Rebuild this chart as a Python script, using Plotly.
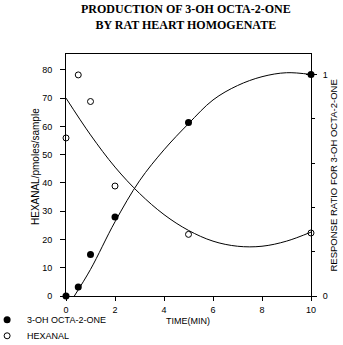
import plotly.graph_objects as go

# Measured time points (minutes)
time_min = [0, 0.5, 1, 2, 5, 10]
# Hexanal, pmoles/sample (left axis)
hexanal = [55.9, 78.2, 68.8, 38.9, 21.8, 22.3]
# 3-OH octa-2-one response ratio (right axis)
ratio_3oh = [0.0, 0.041, 0.187, 0.357, 0.783, 1.0]

# Fitted trend curves
hex_fit_x = [0, 1, 2, 3, 4, 5, 6, 7, 8, 9, 10]
hex_fit_y = [70.0, 57.0, 45.6, 36.3, 28.8, 23.2, 19.4, 17.6, 17.6, 19.4, 22.6]
oh_fit_x = [0.34, 1, 2, 3, 4, 5, 6, 7, 8, 9, 10]
oh_fit_y = [0.0, 0.12, 0.335, 0.52, 0.66, 0.778, 0.885, 0.95, 0.99, 1.008, 1.0]

x_ticks = [0, 2, 4, 6, 8, 10]
left_ticks = [0, 10, 20, 30, 40, 50, 60, 70, 80]
right_ticks = [0, 1]
right_minor = [0.2, 0.4, 0.6, 0.8]

SANS = "Liberation Sans, Arial, sans-serif"
SERIF = "Liberation Serif, Times New Roman, serif"

fig = go.Figure()

# Trend lines
fig.add_trace(go.Scatter(x=hex_fit_x, y=hex_fit_y, mode="lines", yaxis="y",
                         line=dict(color="black", width=1, shape="spline", smoothing=1.0),
                         showlegend=False, hoverinfo="skip"))
fig.add_trace(go.Scatter(x=oh_fit_x, y=oh_fit_y, mode="lines", yaxis="y2",
                         line=dict(color="black", width=1, shape="spline", smoothing=1.0),
                         showlegend=False, hoverinfo="skip"))

# Data points, each with its own legend box
fig.add_trace(go.Scatter(x=time_min, y=ratio_3oh, mode="markers", yaxis="y2",
                         name="3-OH OCTA-2-ONE", cliponaxis=False, legend="legend",
                         marker=dict(symbol="circle", size=7, color="black")))
fig.add_trace(go.Scatter(x=time_min, y=hexanal, mode="markers", yaxis="y",
                         name="HEXANAL", cliponaxis=False, legend="legend2",
                         marker=dict(symbol="circle-open", size=6, color="black",
                                     line=dict(width=1, color="black"))))

Y_MAX = 85.6
R_MAX = 1.0925

legend_style = dict(xanchor="left", yanchor="top", bgcolor="rgba(0,0,0,0)",
                    font=dict(size=9), tracegroupgap=0)

fig.update_layout(
    width=343, height=345,
    margin=dict(l=66, r=32, t=54, b=49, autoexpand=False),
    paper_bgcolor="white", plot_bgcolor="white",
    font=dict(family=SANS, size=9, color="black"),
    showlegend=True,
    legend=dict(x=-0.322, y=-0.0384, **legend_style),
    legend2=dict(x=-0.322, y=-0.1045, **legend_style),
    xaxis=dict(range=[0, 10], tickvals=x_ticks, ticks="outside", ticklen=4,
               tickcolor="black", showline=True, linecolor="black", linewidth=1,
               mirror=True, showgrid=False, zeroline=False,
               tickfont=dict(size=9), ticklabelstandoff=1),
    yaxis=dict(range=[0, Y_MAX], tickvals=left_ticks, ticks="outside", ticklen=5,
               tickcolor="black", showline=True, linecolor="black", linewidth=1,
               showgrid=False, zeroline=False, tickfont=dict(size=9),
               ticklabelstandoff=6),
    yaxis2=dict(range=[0, R_MAX], overlaying="y", side="right", tickvals=right_ticks,
                ticks="outside", ticklen=5, tickcolor="black", showline=True,
                linecolor="black", linewidth=1, showgrid=False, zeroline=False,
                tickfont=dict(size=9), ticklabelstandoff=4,
                minor=dict(tickvals=right_minor, ticks="outside", ticklen=3,
                           tickcolor="black")),
    yaxis3=dict(range=[0, R_MAX], overlaying="y", side="right", tickvals=right_ticks,
                ticks="inside", ticklen=5, tickcolor="black", showticklabels=False,
                showline=False, showgrid=False, zeroline=False),
)

# invisible trace to activate the inner tick axis
fig.add_trace(go.Scatter(x=[None], y=[None], yaxis="y3", showlegend=False, hoverinfo="skip"))

annotations = [
    dict(text="<b>PRODUCTION OF 3-OH OCTA-2-ONE<br>BY RAT HEART HOMOGENATE</b>",
         x=0.4916, y=1.1525, xref="paper", yref="paper", showarrow=False,
         xanchor="center", yanchor="middle",
         font=dict(family=SERIF, size=12, color="black")),
    dict(text="TIME(MIN)", x=0.4986, y=-0.1036, xref="paper", yref="paper",
         showarrow=False, xanchor="center", yanchor="middle", font=dict(size=9)),
    dict(text="HEXANAL/pmoles/sample", x=-0.1267, y=0.537, xref="paper", yref="paper",
         showarrow=False, textangle=-90, xanchor="center", yanchor="middle",
         font=dict(size=10)),
    dict(text="RESPONSE RATIO FOR 3-OH OCTA-2-ONE", x=1.092, y=0.496, xref="paper",
         yref="paper", showarrow=False, textangle=-90, xanchor="center",
         yanchor="middle", font=dict(size=9.5)),
]
fig.update_layout(annotations=annotations)

fig.write_html("out.html")
